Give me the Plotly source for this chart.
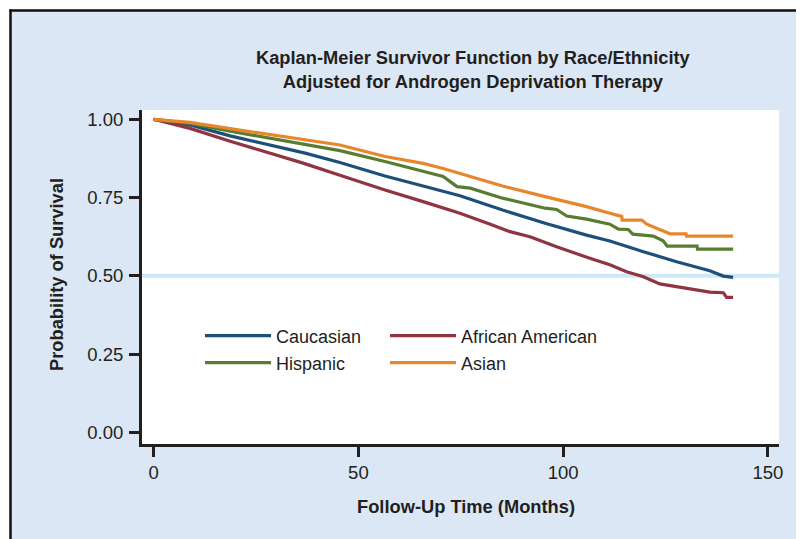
import plotly.graph_objects as go

# ---------------- data ----------------
caucasian_month = [0, 8.9, 18.7, 37.0, 45.5, 56.5, 65.8, 74.8, 85.2, 95.6, 105.7, 111.4,
                   119.6, 127.7, 135.8, 139.1, 141.5]
caucasian_surv = [1.000, 0.982, 0.947, 0.892, 0.862, 0.819, 0.787, 0.756, 0.710, 0.668,
                  0.630, 0.611, 0.577, 0.545, 0.516, 0.499, 0.495]

african_month = [0, 8.9, 18.7, 36.5, 45.5, 56.5, 65.8, 74.8, 82.2, 87.0, 91.9, 98.4,
                 106.5, 111.4, 115.5, 119.6, 123.6, 127.7, 131.8, 135.8, 139.1, 139.9, 141.5]
african_surv = [1.000, 0.971, 0.930, 0.860, 0.821, 0.774, 0.737, 0.700, 0.665, 0.641,
                0.625, 0.593, 0.556, 0.535, 0.513, 0.497, 0.474, 0.465, 0.455, 0.448,
                0.446, 0.431, 0.431]

hispanic_month = [0, 8.9, 18.7, 36.5, 45.5, 56.5, 65.8, 70.7, 72.5, 74.1, 77.3, 85.2,
                  95.6, 98.4, 100.9, 105.7, 111.4, 113.5, 115.9, 117.0, 122.0, 124.4,
                  125.4, 132.7, 132.8, 141.5]
hispanic_surv = [1.000, 0.987, 0.962, 0.922, 0.900, 0.865, 0.833, 0.817, 0.800, 0.785,
                 0.780, 0.748, 0.716, 0.712, 0.691, 0.681, 0.665, 0.649, 0.648, 0.633,
                 0.627, 0.612, 0.595, 0.595, 0.585, 0.585]

asian_month = [0, 8.9, 18.7, 36.5, 45.5, 56.5, 65.8, 70.7, 77.3, 85.2, 95.6, 105.7,
               111.4, 114.3, 114.4, 119.2, 120.4, 126.1, 130.0, 130.1, 141.5]
asian_surv = [1.000, 0.990, 0.970, 0.937, 0.918, 0.881, 0.859, 0.843, 0.817, 0.787,
              0.753, 0.721, 0.700, 0.690, 0.678, 0.678, 0.665, 0.634, 0.634, 0.627, 0.627]

reference_level = 0.5
y_tick_values = [0, 0.25, 0.5, 0.75, 1.0]
y_tick_labels = ["0.00", "0.25", "0.50", "0.75", "1.00"]
x_tick_values = [0, 50, 100, 150]
x_tick_labels = ["0", "50", "100", "150"]

series_names = ["Caucasian", "African American", "Hispanic", "Asian"]

# ---------------- styling ----------------
OFF = 8                      # page offset of the plot div (body margin)
PAGE_W, PAGE_H = 804, 539
W, H = PAGE_W - OFF, PAGE_H - OFF
# plot area in page pixels: x 142..779, y 110..444
L, T = 142 - OFF, 110 - OFF
R, B = W - (779 - OFF), H - (444 - OFF)
PW, PH = W - L - R, H - T - B

BG = "#dbe7f4"
INK = "#231f20"
FONT = "Liberation Sans, Arial, sans-serif"
colors = {"Caucasian": "#1d4f7b", "African American": "#8f3440",
          "Hispanic": "#587d31", "Asian": "#e8862c"}


def px2x(px):
    """page pixel x -> paper x"""
    return (px - OFF - L) / PW


def py2y(py):
    """page pixel y -> paper y"""
    return (H - B - (py - OFF)) / PH


fig = go.Figure()

# reference line at 0.5 (light blue)
fig.add_shape(type="line", xref="paper", yref="y", x0=0, x1=1,
              y0=reference_level, y1=reference_level,
              line=dict(color="#cde8f7", width=4), layer="below")

data = [("Caucasian", caucasian_month, caucasian_surv, "legend"),
        ("African American", african_month, african_surv, "legend2"),
        ("Hispanic", hispanic_month, hispanic_surv, "legend3"),
        ("Asian", asian_month, asian_surv, "legend4")]

for name, xs, ys, lg in data:
    fig.add_trace(go.Scatter(x=xs, y=ys, mode="lines", name=name,
                             line=dict(color=colors[name], width=3.2),
                             legend=lg))

# legend placement (one legend per entry so rows match exactly)
leg_common = dict(bgcolor="rgba(0,0,0,0)", borderwidth=0,
                  font=dict(family=FONT, size=18, color=INK),
                  itemwidth=66, xanchor="left", yanchor="middle",
                  tracegroupgap=0)
fig.update_layout(
    legend=dict(x=px2x(200), y=py2y(336), **leg_common),
    legend2=dict(x=px2x(385), y=py2y(336), **leg_common),
    legend3=dict(x=px2x(200), y=py2y(363), **leg_common),
    legend4=dict(x=px2x(385), y=py2y(363), **leg_common),
)

fig.update_layout(
    width=W, height=H, autosize=False,
    margin=dict(l=L, r=R, t=T, b=B, pad=0),
    paper_bgcolor=BG, plot_bgcolor="white",
    showlegend=True,
    font=dict(family=FONT, size=18, color=INK),
)

fig.update_xaxes(range=[-2.83, 152.7], showgrid=False, zeroline=False,
                 showline=True, linecolor=INK, linewidth=3,
                 ticks="outside", ticklen=10, tickwidth=2.5, tickcolor=INK,
                 tickvals=x_tick_values, ticktext=x_tick_labels,
                 tickfont=dict(family=FONT, size=18.5, color=INK),
                 ticklabelstandoff=0)
fig.update_yaxes(range=[-0.0374, 1.0297], showgrid=False, zeroline=False,
                 showline=True, linecolor=INK, linewidth=3,
                 ticks="outside", ticklen=10, tickwidth=2.5, tickcolor=INK,
                 tickvals=y_tick_values, ticktext=y_tick_labels,
                 tickfont=dict(family=FONT, size=18.5, color=INK),
                 ticklabelstandoff=2)

# titles
fig.add_annotation(text="Kaplan-Meier Survivor Function by Race/Ethnicity<br>"
                        "Adjusted for Androgen Deprivation Therapy",
                   xref="paper", yref="paper", x=px2x(473), y=py2y(70),
                   xanchor="center", yanchor="middle", showarrow=False,
                   font=dict(family=FONT, size=18.3, color=INK, weight="bold"))
fig.add_annotation(text="Follow-Up Time (Months)", xref="paper", yref="paper",
                   x=px2x(466), y=py2y(506), xanchor="center", yanchor="middle",
                   showarrow=False,
                   font=dict(family=FONT, size=18.3, color=INK, weight="bold"))
fig.add_annotation(text="Probability of Survival", xref="paper", yref="paper",
                   x=px2x(56), y=py2y(275), xanchor="center", yanchor="middle",
                   textangle=-90, showarrow=False,
                   font=dict(family=FONT, size=18.3, color=INK, weight="bold"))

# outer frame: white strip above/left with black border
fig.add_shape(type="rect", xref="paper", yref="paper",
              x0=px2x(0), x1=px2x(PAGE_W + 5), y0=py2y(0), y1=py2y(9.5),
              fillcolor="white", line=dict(width=0), layer="above")
fig.add_shape(type="rect", xref="paper", yref="paper",
              x0=px2x(0), x1=px2x(9.5), y0=py2y(0), y1=py2y(PAGE_H + 5),
              fillcolor="white", line=dict(width=0), layer="above")
fig.add_shape(type="line", xref="paper", yref="paper",
              x0=px2x(9.5), x1=px2x(PAGE_W + 5), y0=py2y(10.5), y1=py2y(10.5),
              line=dict(color="#111111", width=2.5), layer="above")
fig.add_shape(type="line", xref="paper", yref="paper",
              x0=px2x(10.5), x1=px2x(10.5), y0=py2y(9.3), y1=py2y(PAGE_H + 5),
              line=dict(color="#111111", width=2.5), layer="above")

fig.write_html("out.html")
